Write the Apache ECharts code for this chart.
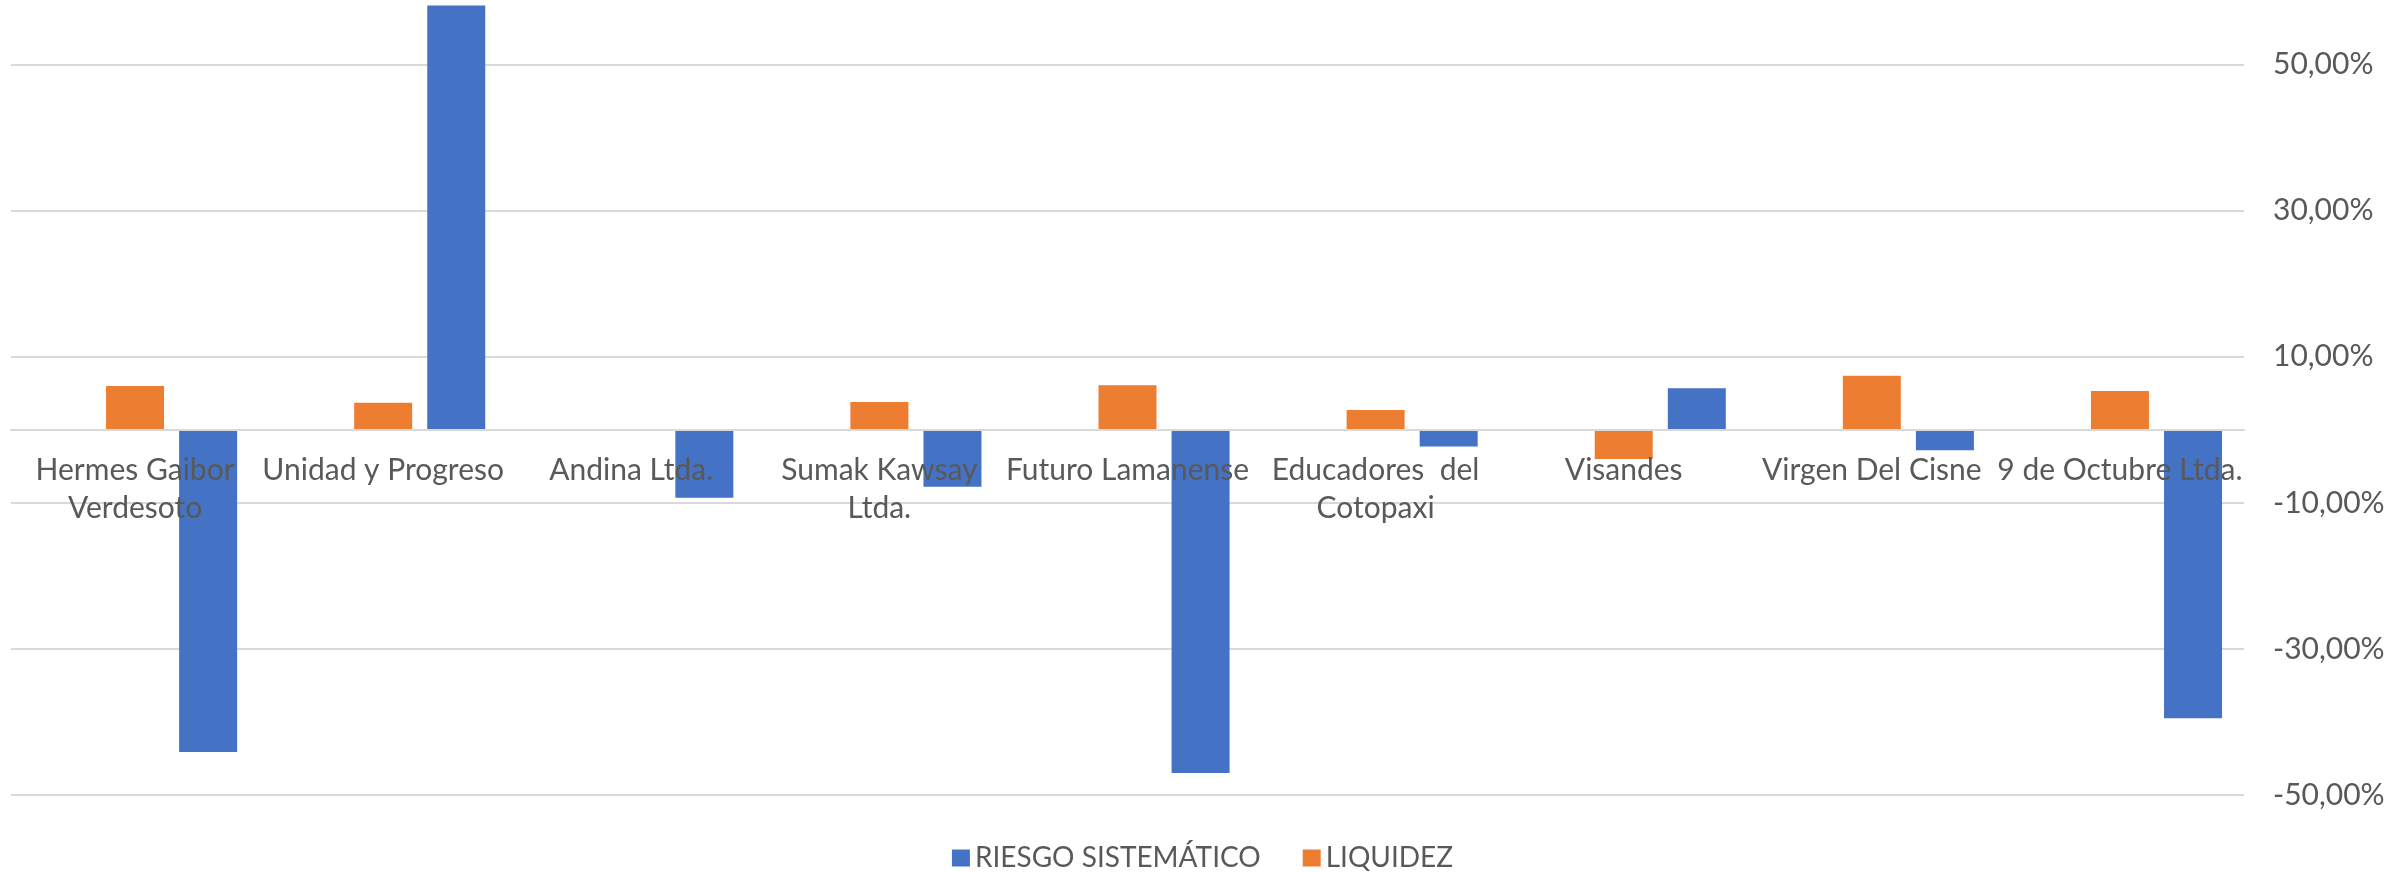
<!DOCTYPE html>
<html>
<head>
<meta charset="utf-8">
<title>Riesgo sistemático y liquidez</title>
<script src="https://cdn.jsdelivr.net/npm/echarts@6/dist/echarts.min.js"></script>
<style>
  html, body { margin: 0; padding: 0; background: #fff; }
  #chart { width: 2405px; height: 872px; }
</style>
</head>
<body>
<div id="chart"></div>
<script>
// Cooperativas (line breaks follow the original wrapping)
const categories = [
  'Hermes Gaibor\nVerdesoto',
  'Unidad y Progreso',
  'Andina Ltda.',
  'Sumak Kawsay\nLtda.',
  'Futuro Lamanense',
  'Educadores  del\nCotopaxi',
  'Visandes',
  'Virgen Del Cisne',
  '9 de Octubre Ltda.'
];
// values in percent
const riesgo = [-44.1, 58.1, -9.3, -7.8, -47.0, -2.3, 5.7, -2.8, -39.5];
const liquidez = [6.0, 3.7, 0.1, 3.8, 6.1, 2.7, -4.0, 7.4, 5.3];
// empty slot that sits left of the orange bars in the original
const vacio = categories.map(() => null);

const yMin = -50;
const yMax = 58.85;
const yStep = 20;

const textColor = '#595959';
const gridColor = '#d9d9d9';
const fontFamily = 'Lato, "Open Sans", sans-serif';

const H = 872;
const gridTop = 0;
const gridBottom = 77;
// category axis sits on the zero line, labels included
const plotH = H - gridTop - gridBottom;
const zeroOffset = -plotH * (0 - yMin) / (yMax - yMin);

const fmtPct = (v) => v.toFixed(2).replace('.', ',') + '%';

const chart = echarts.init(document.getElementById('chart'));
chart.setOption({
  animation: false,
  textStyle: { fontFamily },
  grid: { left: 11, right: 161, top: gridTop, bottom: gridBottom, containLabel: false, outerBoundsMode: 'none' },
  legend: {
    data: ['RIESGO SISTEMÁTICO', 'LIQUIDEZ'],
    left: 'center',
    top: 839,
    icon: 'rect',
    itemWidth: 18,
    itemHeight: 17,
    itemGap: 42,
    textStyle: { color: textColor, fontSize: 28, fontFamily }
  },
  xAxis: {
    type: 'category',
    data: categories,
    z: 5,
    position: 'bottom',
    offset: zeroOffset,
    axisLine: { onZero: false, lineStyle: { color: gridColor, width: 2 } },
    axisTick: { show: false },
    axisLabel: {
      color: textColor,
      fontSize: 30,
      fontFamily,
      margin: 22,
      lineHeight: 38,
      interval: 0,
      align: 'center'
    }
  },
  yAxis: {
    type: 'value',
    position: 'right',
    min: yMin,
    max: yMax,
    interval: yStep,
    axisLine: { show: false },
    axisTick: { show: false },
    axisLabel: {
      color: textColor,
      fontSize: 30,
      fontFamily,
      margin: 29,
      showMaxLabel: false,
      formatter: (v) => (Math.abs(v % 10) < 1e-6 ? fmtPct(v) : '')
    },
    splitLine: { show: true, showMaxLine: false, lineStyle: { color: gridColor, width: 2 } }
  },
  series: [
    { name: 'aux', type: 'bar', data: vacio, barWidth: 58, barGap: '26%' },
    { name: 'LIQUIDEZ', type: 'bar', data: liquidez, barWidth: 58, barGap: '26%', itemStyle: { color: '#ED7D31' } },
    { name: 'RIESGO SISTEMÁTICO', type: 'bar', data: riesgo, barWidth: 58, barGap: '26%', itemStyle: { color: '#4472C4' } }
  ]
});
</script>
</body>
</html>
